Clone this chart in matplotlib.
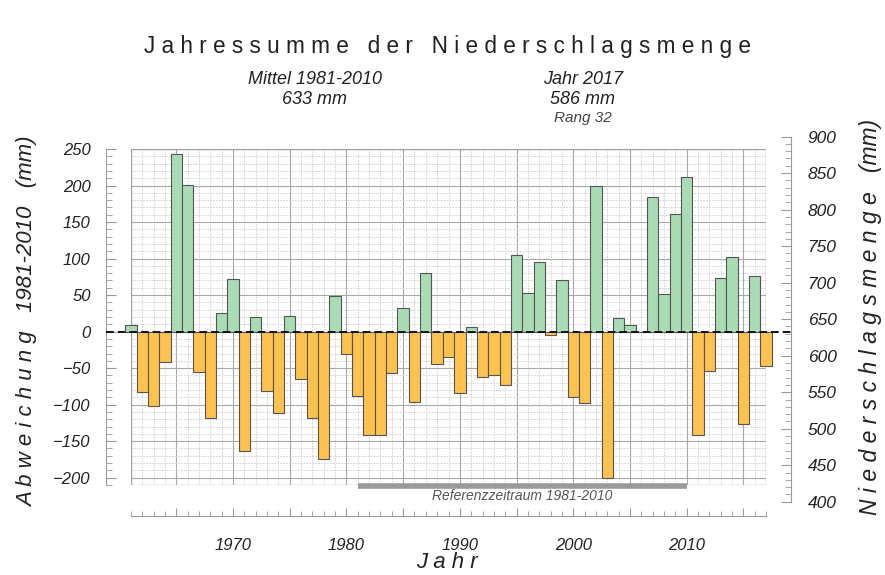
import matplotlib
matplotlib.use('Agg')
import matplotlib.pyplot as plt
from matplotlib.ticker import MultipleLocator, FuncFormatter
from matplotlib.patches import Rectangle

plt.rcParams['font.family'] = ['Liberation Sans', 'DejaVu Sans']

# data: deviation of annual precipitation from mean 1981-2010 (mm)
years = list(range(1961, 2018))
deviation = [9, -82, -102, -41, 243, 201, -55, -118, 26, 72,
             -164, 20, -81, -111, 21, -65, -118, -174, 49, -30,
             -88, -141, -141, -57, 32, -97, 80, -45, -35, -84,
             6, -62, -60, -73, 105, 53, 95, -4, 70, -90,
             -98, 200, -201, 18, 9, 0, 184, 51, 161, 212,
             -142, -54, 73, 102, -126, 76, -47]
mean_ref = 633
ref_period = [1981, 2010]
dev_range = [-210, 250]
abs_range = [400, 900]

green = '#a9dcb5'
orange = '#fdc24f'
colors = [green if d >= 0 else orange for d in deviation]

def spaced(s):
    # letter-space words only, keep numbers and units as they are
    out = []
    for w in s.split(' '):
        out.append(w if (w[0].isdigit() or w[0] == '(') else ' '.join(w))
    return '   '.join(out)

fig = plt.figure(figsize=(8.85, 5.75), dpi=100)
W, H = 885, 575
ax = fig.add_axes([131 / W, 1 - 485 / H, (766 - 131) / W, (485 - 149) / H])

ax.bar(years, deviation, width=1.0, color=colors, edgecolor='#555555',
       linewidth=0.8, clip_on=False, zorder=3)

ax.set_xlim(years[0], years[-1])
ax.set_ylim(dev_range)

# grid
ax.xaxis.set_major_locator(MultipleLocator(5))
ax.xaxis.set_minor_locator(MultipleLocator(1))
ax.yaxis.set_major_locator(MultipleLocator(50))
ax.yaxis.set_minor_locator(MultipleLocator(10))
ax.grid(which='major', color='#a8a8a8', lw=0.8, zorder=0)
ax.grid(which='minor', color='#cccccc', lw=0.6, ls=(0, (2, 1.5)), zorder=0)
ax.set_axisbelow(True)
ax.add_patch(Rectangle((0, 0), 1, 1, transform=ax.transAxes, fill=False,
                       ec='#a0a0a0', lw=1.0, zorder=2.5))

for s in ['top', 'right']:
    ax.spines[s].set_visible(False)
ax.spines['left'].set_position(('outward', 18))
ax.spines['left'].set_bounds(dev_range[0], dev_range[1])
ax.spines['bottom'].set_position(('outward', 22))
ax.spines['bottom'].set_bounds(years[0], years[-1])
for s in ['left', 'bottom']:
    ax.spines[s].set_color('#999999')

ax.tick_params(axis='both', which='both', direction='in', color='#999999',
               labelcolor='#222222', labelsize=12)
ax.tick_params(axis='y', which='major', length=7, pad=11)
ax.tick_params(axis='y', which='minor', length=4)
ax.tick_params(axis='x', which='major', length=6, pad=16)
ax.tick_params(axis='x', which='minor', length=3.5)
ax.xaxis.set_major_formatter(FuncFormatter(
    lambda v, p: '%d' % v if int(round(v)) % 10 == 0 else ''))
for lab in ax.get_xticklabels() + ax.get_yticklabels():
    lab.set_fontstyle('italic')

# zero line
ax.plot([-25 / 635, 1 + 25 / 635], [0, 0], transform=ax.get_yaxis_transform(),
        color='#111111', lw=1.4, ls=(0, (4, 2)), clip_on=False, zorder=5)

# reference period
ax.plot(ref_period, [dev_range[0] - 1, dev_range[0] - 1], color='#9a9a9a', lw=4,
        solid_capstyle='butt', clip_on=False, zorder=5)
ax.text(sum(ref_period) / 2, dev_range[0] - 15, 'Referenzzeitraum %d-%d' % tuple(ref_period),
        ha='center', va='center', fontsize=10, style='italic', color='#555555')

# right axis in absolute values
pos = ax.get_position()
def fy(v):
    return pos.y0 + pos.height * (v - dev_range[0]) / (dev_range[1] - dev_range[0])
y0 = fy(abs_range[0] - mean_ref)
y1 = fy(abs_range[1] - mean_ref)
ax_r = fig.add_axes([780 / W, y0, 11 / W, y1 - y0])
ax_r.set_ylim(abs_range)
ax_r.patch.set_visible(False)
for s in ['top', 'left', 'bottom']:
    ax_r.spines[s].set_visible(False)
ax_r.spines['right'].set_color('#999999')
ax_r.set_xticks([])
ax_r.yaxis.tick_right()
ax_r.yaxis.set_major_locator(MultipleLocator(50))
ax_r.yaxis.set_minor_locator(MultipleLocator(10))
ax_r.tick_params(axis='y', which='both', direction='in', color='#999999',
                 labelcolor='#222222', labelsize=12.5)
ax_r.tick_params(axis='y', which='major', length=7, pad=12)
ax_r.tick_params(axis='y', which='minor', length=4)
for lab in ax_r.get_yticklabels():
    lab.set_fontstyle('italic')

# texts
fig.text(448 / W, 1 - 46 / H, spaced('Jahressumme der Niederschlagsmenge'),
         ha='center', va='center', fontsize=16.3, color='#222222')
fig.text(315 / W, 1 - 80 / H, 'Mittel 1981-2010', ha='center', va='center',
         fontsize=13, style='italic', color='#222222')
fig.text(315 / W, 1 - 100 / H, '633 mm', ha='center', va='center',
         fontsize=13, style='italic', color='#222222')
fig.text(583 / W, 1 - 80 / H, 'Jahr 2017', ha='center', va='center',
         fontsize=13, style='italic', color='#222222')
fig.text(583 / W, 1 - 100 / H, '586 mm', ha='center', va='center',
         fontsize=13, style='italic', color='#222222')
fig.text(583 / W, 1 - 118 / H, 'Rang 32', ha='center', va='center',
         fontsize=11, style='italic', color='#444444')
fig.text(447 / W, 1 - 563 / H, spaced('Jahr'), ha='center', va='center',
         fontsize=16, style='italic', color='#222222')
fig.text(28 / W, 1 - 322 / H, spaced('Abweichung 1981-2010 (mm)'), rotation=90,
         ha='center', va='center', fontsize=16, style='italic', color='#222222')
fig.text(870 / W, 1 - 317 / H, spaced('Niederschlagsmenge (mm)'), rotation=90,
         ha='center', va='center', fontsize=16.5, style='italic', color='#222222')

fig.savefig('out.png', dpi=100)
